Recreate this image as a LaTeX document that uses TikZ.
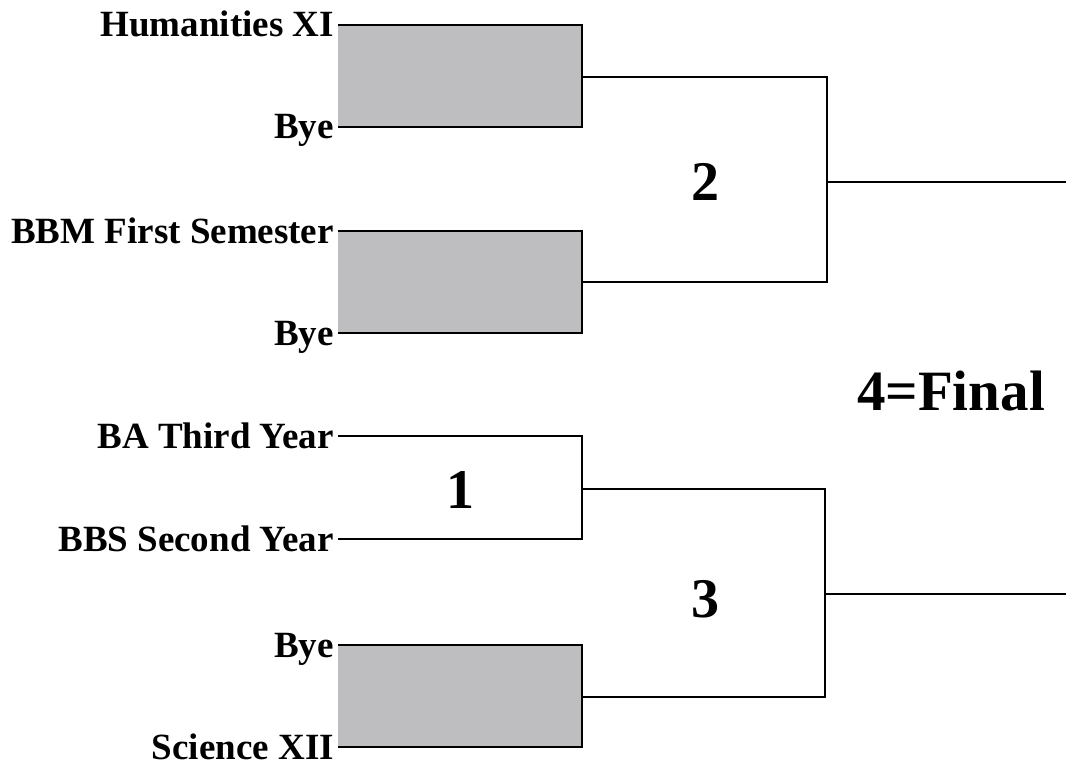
\documentclass[tikz,border=0pt]{standalone}
\usepackage{fontspec}
\setmainfont{Liberation Serif}
\definecolor{byegray}{RGB}{190,190,192}
\begin{document}
\begin{tikzpicture}[x=1pt,y=-1pt,
  team/.style={anchor=base east, font=\fontsize{37}{40}\selectfont\bfseries, inner sep=0pt},
  num/.style={font=\fontsize{56}{60}\selectfont\bfseries, inner sep=0pt},
  finalnum/.style={font=\fontsize{57}{62}\selectfont\bfseries, inner sep=0pt},
  bracket/.style={line width=2.6pt, line join=miter},
  thinline/.style={line width=2.2pt},
  byebox/.style={fill=byegray, draw=none}]
\useasboundingbox (0,0) rectangle (1066,765);
% slot start points
\coordinate (s1) at (338,25);
\coordinate (s2) at (338,127);
\coordinate (s3) at (338,231);
\coordinate (s4) at (338,333);
\coordinate (s5) at (338,436);
\coordinate (s6) at (338,539);
\coordinate (s7) at (338,645);
\coordinate (s8) at (338,747);
% first-round bracket corners
\coordinate (a1) at (582,25);
\coordinate (a2) at (582,127);
\coordinate (a3) at (582,231);
\coordinate (a4) at (582,333);
\coordinate (a5) at (582,436);
\coordinate (a6) at (582,539);
\coordinate (a7) at (582,645);
\coordinate (a8) at (582,747);
% first-round winners
\coordinate (w1) at (582,77);
\coordinate (w2) at (582,282);
\coordinate (w3) at (582,489);
\coordinate (w4) at (582,697);
% second-round corners
\coordinate (b1) at (827,77);
\coordinate (b2) at (827,282);
\coordinate (b3) at (825,489);
\coordinate (b4) at (825,697);
% second-round winners
\coordinate (f1) at (827,182);
\coordinate (f2) at (825,594);
\coordinate (e1) at (1066,182);
\coordinate (e2) at (1066,594);

% bye boxes
\fill[byebox] (s1) rectangle (a2);
\fill[byebox] (s3) rectangle (a4);
\fill[byebox] (s7) rectangle (a8);

% first-round brackets
\draw[bracket] (s1) -- (a1) -- (a2) -- (s2);
\draw[bracket] (s3) -- (a3) -- (a4) -- (s4);
\draw[bracket] (s5) -- (a5) -- (a6) -- (s6);
\draw[bracket] (s7) -- (a7) -- (a8) -- (s8);

% second-round brackets
\draw[bracket] (w1) -- (b1) -- (b2) -- (w2);
\draw[bracket] (w3) -- (b3) -- (b4) -- (w4);

% to the final
\draw[thinline] (f1) -- (e1);
\draw[thinline] (f2) -- (e2);

% team labels
\node[team] (t1) at (334,37) {Humanities XI};
\node[team] (t2) at (334,139) {Bye};
\node[team] (t3) at (334,243) {BBM First Semester};
\node[team] (t4) at (334,345) {Bye};
\node[team] (t5) at (334,448) {BA Third Year};
\node[team] (t6) at (334,551) {BBS Second Year};
\node[team] (t7) at (334,657) {Bye};
\node[team] (t8) at (334,759) {Science XII};

% match numbers
\node[num] (m1) at (460,490) {1};
\node[num] (m2) at (705,182) {2};
\node[num] (m3) at (705,599) {3};
\node[finalnum] (m4) at (951,391) {4=Final};
\end{tikzpicture}
\end{document}
